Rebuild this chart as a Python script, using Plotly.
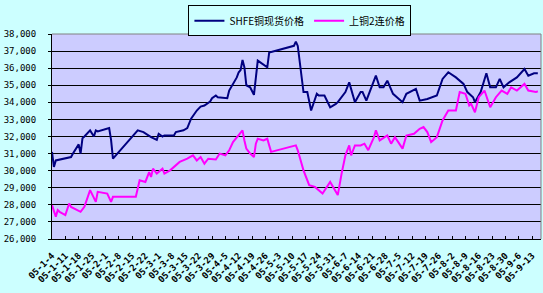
import plotly.graph_objects as go

# SHFE copper spot price
spot_dates = ["2005-01-04","2005-01-05","2005-01-06","2005-01-10","2005-01-13","2005-01-14","2005-01-15",
    "2005-01-18","2005-01-19","2005-01-20","2005-01-21","2005-01-24","2005-01-26","2005-01-27","2005-01-28",
    "2005-01-31","2005-02-02","2005-02-03","2005-02-04","2005-02-05","2005-02-18","2005-02-21","2005-02-25",
    "2005-02-28","2005-03-01","2005-03-03","2005-03-04","2005-03-09","2005-03-10","2005-03-14","2005-03-16",
    "2005-03-17","2005-03-18","2005-03-21","2005-03-23","2005-03-25","2005-03-28","2005-03-29","2005-03-31",
    "2005-04-01","2005-04-06","2005-04-07","2005-04-11","2005-04-12","2005-04-13","2005-04-14","2005-04-15",
    "2005-04-16","2005-04-18","2005-04-20","2005-04-22","2005-04-27","2005-04-28","2005-05-11","2005-05-12",
    "2005-05-13","2005-05-16","2005-05-18","2005-05-20","2005-05-23","2005-05-24","2005-05-27","2005-05-30",
    "2005-06-02","2005-06-03","2005-06-07","2005-06-09","2005-06-12","2005-06-15","2005-06-16","2005-06-18",
    "2005-06-21","2005-06-23","2005-06-25","2005-06-27","2005-06-29","2005-07-02","2005-07-07","2005-07-09",
    "2005-07-14","2005-07-16","2005-07-20","2005-07-25","2005-07-28","2005-07-31","2005-08-04","2005-08-08",
    "2005-08-10","2005-08-13","2005-08-14","2005-08-17","2005-08-20","2005-08-22","2005-08-25","2005-08-27",
    "2005-08-29","2005-09-01","2005-09-05","2005-09-09","2005-09-11","2005-09-14","2005-09-16"]
spot_values = [31100,30220,30600,30700,30760,30800,31000,
    31540,31000,31900,32000,32360,32000,32360,32300,
    32400,32450,32490,31800,30700,32360,32260,31960,
    31800,32160,32000,32060,32060,32260,32360,32490,
    32750,33040,33520,33750,33810,34050,34240,34400,
    34300,34240,34690,35460,35760,35890,36480,36050,
    35000,34880,34440,36440,36050,36920,37310,37550,
    37300,34600,34600,33520,34500,34400,34400,33710,
    33910,34010,34600,35170,34010,34600,34600,34100,
    34980,35560,34880,34880,35270,34500,34010,34500,
    34790,34100,34200,34400,35370,35760,35460,35080,
    34600,34300,34010,34600,35700,34880,34880,35370,
    34880,35170,35460,35950,35560,35700,35700]

# SHFE copper 2nd-month contract price
fut_dates = ["2005-01-04","2005-01-06","2005-01-07","2005-01-08","2005-01-11","2005-01-13","2005-01-14",
    "2005-01-19","2005-01-21","2005-01-24","2005-01-27","2005-01-28","2005-02-02","2005-02-04","2005-02-05",
    "2005-02-17","2005-02-19","2005-02-22","2005-02-24","2005-02-25","2005-02-26","2005-02-28","2005-03-03",
    "2005-03-04","2005-03-07","2005-03-11","2005-03-12","2005-03-16","2005-03-19","2005-03-21","2005-03-23",
    "2005-03-25","2005-03-27","2005-03-31","2005-04-02","2005-04-05","2005-04-07","2005-04-09","2005-04-11",
    "2005-04-14","2005-04-15","2005-04-16","2005-04-18","2005-04-20","2005-04-21","2005-04-22","2005-04-25",
    "2005-04-27","2005-04-28","2005-04-29","2005-05-12","2005-05-13","2005-05-16","2005-05-19","2005-05-22",
    "2005-05-26","2005-05-30","2005-05-31","2005-06-03","2005-06-05","2005-06-07","2005-06-09","2005-06-10",
    "2005-06-12","2005-06-15","2005-06-17","2005-06-19","2005-06-22","2005-06-23","2005-06-25","2005-06-29",
    "2005-07-01","2005-07-03","2005-07-07","2005-07-09","2005-07-13","2005-07-16","2005-07-18","2005-07-20",
    "2005-07-22","2005-07-25","2005-07-28","2005-07-31","2005-08-04","2005-08-06","2005-08-09","2005-08-11",
    "2005-08-12","2005-08-14","2005-08-16","2005-08-18","2005-08-19","2005-08-22","2005-08-25","2005-08-28",
    "2005-08-31","2005-09-02","2005-09-05","2005-09-09","2005-09-11","2005-09-15","2005-09-16"]
fut_values = [27980,27300,27690,27590,27400,28080,27880,
    27590,27880,28860,28170,28760,28660,28170,28470,
    28470,29440,29340,29920,29630,30120,29830,30120,
    29830,30020,30410,30510,30700,30900,30600,30800,
    30410,30700,30650,31000,30900,31190,31670,31960,
    32360,31770,31290,31000,30800,31580,31870,31770,
    31870,31480,31100,31480,31190,30020,29150,29050,
    28660,29340,29150,28570,29830,30900,31480,30900,
    31480,31480,31580,31200,31960,32360,31770,32060,
    31580,31960,31290,32060,32160,32450,32550,32260,
    31670,31960,32940,33520,33520,34600,34500,33810,
    33910,33420,34300,34600,34690,33710,34300,34690,
    34500,34880,34690,35080,34690,34600,34650]

tick_dates = ["2005-01-04","2005-01-11","2005-01-18","2005-01-25","2005-02-01","2005-02-08","2005-02-15",
    "2005-02-22","2005-03-01","2005-03-08","2005-03-15","2005-03-22","2005-03-29","2005-04-05","2005-04-12",
    "2005-04-19","2005-04-26","2005-05-03","2005-05-10","2005-05-17","2005-05-24","2005-05-31","2005-06-07",
    "2005-06-14","2005-06-21","2005-06-28","2005-07-05","2005-07-12","2005-07-19","2005-07-26","2005-08-02",
    "2005-08-09","2005-08-16","2005-08-23","2005-08-30","2005-09-06","2005-09-13"]
tick_labels = ["05-1-4","05-1-11","05-1-18","05-1-25","05-2-1","05-2-8","05-2-15",
    "05-2-22","05-3-1","05-3-8","05-3-15","05-3-22","05-3-29","05-4-5","05-4-12",
    "05-4-19","05-4-26","05-5-3","05-5-10","05-5-17","05-5-24","05-5-31","05-6-7",
    "05-6-14","05-6-21","05-6-28","05-7-5","05-7-12","05-7-19","05-7-26","05-8-2",
    "05-8-9","05-8-16","05-8-23","05-8-30","05-9-6","05-9-13"]
y_ticks = list(range(26000, 38001, 1000))
y_labels = [f"{v:,}" for v in y_ticks]

series_names = ["SHFE铜现货价格", "上铜2连价格"]

fig = go.Figure()
fig.add_trace(go.Scatter(x=spot_dates, y=spot_values, mode="lines", name=series_names[0],
                         line=dict(color="#000080", width=2)))
fig.add_trace(go.Scatter(x=fut_dates, y=fut_values, mode="lines", name=series_names[1],
                         line=dict(color="#FF00FF", width=2)))

fig.update_layout(
    width=543, height=293,
    margin=dict(l=52, r=2, t=34, b=54, pad=0),
    paper_bgcolor="#CCFFFF", plot_bgcolor="#CCCCFF",
    font=dict(family="DejaVu Sans Mono", size=9, color="black"),
    showlegend=True,
    legend=dict(orientation="h", x=0.507, xanchor="center", y=1.14, yanchor="top",
                bgcolor="#CCFFFF", bordercolor="black", borderwidth=1,
                font=dict(family="Noto Sans CJK SC", size=10, color="black"),
                itemwidth=30, tracegroupgap=0),
    shapes=[
        dict(type="line", xref="paper", yref="paper", x0=0, x1=1, y0=1, y1=1,
             line=dict(color="#808080", width=1), layer="above"),
        dict(type="line", xref="paper", yref="paper", x0=1, x1=1, y0=0, y1=1,
             line=dict(color="#808080", width=1), layer="above"),
    ],
)
fig.update_xaxes(type="date", range=["2005-01-04", "2005-09-17 16:00"],
                 tickvals=tick_dates, ticktext=tick_labels, tickangle=-45,
                 ticks="inside", ticklen=3, tickcolor="black",
                 showline=True, linecolor="black", linewidth=1,
                 showgrid=False, zeroline=False, automargin=False,
                 ticklabelstandoff=7,
                 tickfont=dict(family="DejaVu Sans Mono", size=9, color="black", weight="bold"))
fig.update_yaxes(range=[26000, 38000], tickvals=y_ticks, ticktext=y_labels,
                 ticks="outside", ticklen=3, tickcolor="black",
                 showline=True, linecolor="black", linewidth=1,
                 showgrid=True, gridcolor="black", gridwidth=1,
                 zeroline=False, automargin=False, ticklabelstandoff=10,
                 tickfont=dict(family="DejaVu Sans Mono", size=9, color="black"))

fig.write_html("out.html")
